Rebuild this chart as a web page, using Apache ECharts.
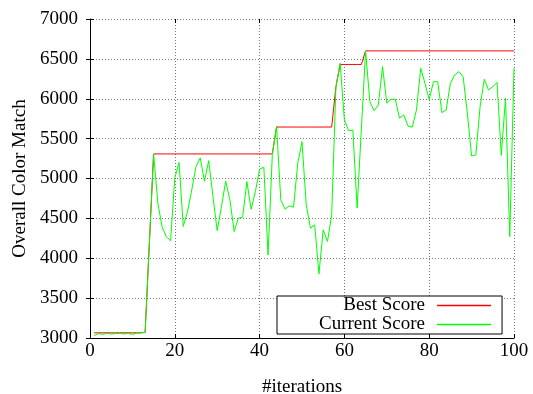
<!DOCTYPE html>
<html>
<head>
<meta charset="utf-8">
<script src="https://cdn.jsdelivr.net/npm/echarts@6/dist/echarts.min.js"></script>
<style>html,body{margin:0;padding:0;background:#fff}#chart{width:533px;height:394px}</style>
</head>
<body>
<div id="chart"></div>
<script>
const seriesNames = ['Best Score', 'Current Score'];
const seriesColors = ['#ff0000', '#00ff00'];
const xTicks = [0, 20, 40, 60, 80, 100];
const yTicks = [3000, 3500, 4000, 4500, 5000, 5500, 6000, 6500, 7000];

// Best Score, iterations 1..100
const bestScore = [
  3065, 3065, 3065, 3065, 3065, 3065, 3065, 3065, 3065, 3065,
  3065, 3065, 3070, 4190, 5308, 5308, 5308, 5308, 5308, 5308,
  5308, 5308, 5308, 5308, 5308, 5308, 5308, 5308, 5308, 5308,
  5308, 5308, 5308, 5308, 5308, 5308, 5308, 5308, 5308, 5308,
  5308, 5308, 5308, 5645, 5645, 5645, 5645, 5645, 5645, 5645,
  5645, 5645, 5645, 5645, 5645, 5645, 5645, 6150, 6430, 6430,
  6430, 6430, 6430, 6430, 6600, 6600, 6600, 6600, 6600, 6600,
  6600, 6600, 6600, 6600, 6600, 6600, 6600, 6600, 6600, 6600,
  6600, 6600, 6600, 6600, 6600, 6600, 6600, 6600, 6600, 6600,
  6600, 6600, 6600, 6600, 6600, 6600, 6600, 6600, 6600, 6600
];

// Current Score, iterations 1..100
const currentScore = [
  3030, 3055, 3045, 3060, 3050, 3055, 3060, 3050, 3060, 3045,
  3060, 3065, 3070, 4190, 5308, 4694, 4393, 4272, 4218, 5007,
  5200, 4400, 4585, 4857, 5150, 5258, 4965, 5224, 4773, 4345,
  4648, 4965, 4732, 4335, 4505, 4512, 4961, 4615, 4836, 5117,
  5142, 4042, 5300, 5655, 4732, 4615, 4657, 4640, 5190, 5462,
  4669, 4377, 4418, 3804, 4356, 4210, 4540, 6150, 6445, 5734,
  5600, 5605, 4630, 5620, 6600, 5964, 5851, 5922, 6402, 5943,
  5994, 5994, 5756, 5797, 5659, 5643, 5860, 6382, 6194, 5990,
  6214, 6214, 5826, 5860, 6194, 6298, 6340, 6277, 5818, 5283,
  5296, 5901, 6244, 6110, 6152, 6205, 5290, 6006, 4272, 6382
];

const FONT = 'Liberation Serif';
const chart = echarts.init(document.getElementById('chart'), null, {renderer: 'canvas'});

const toPairs = arr => arr.map((v, i) => [i + 1, v]);

const gridLine = {show: true, lineStyle: {color: '#777', type: [1, 2], width: 1}};
const richLabel = {s: {color: '#000', fontFamily: FONT, fontSize: 19}};
const plainFmt = v => '{s|' + String(v) + '}';
const lineIcon = 'path://M0,0L54,0L54,1.5L0,1.5Z';

chart.setOption({
  animation: false,
  backgroundColor: '#fff',
  textStyle: {fontFamily: FONT},
  grid: {left: 90, right: 19, top: 19, bottom: 56, containLabel: false, outerBoundsMode: 'none'},
  legend: {
    data: seriesNames.map((n, i) => ({
      name: n,
      icon: lineIcon,
      itemStyle: {color: seriesColors[i], borderColor: seriesColors[i], borderWidth: 0, opacity: 1}
    })),
    orient: 'vertical',
    align: 'right',
    left: 277,
    top: 296,
    padding: [0, 11, 0, 42],
    itemGap: 0,
    itemWidth: 54,
    itemHeight: 1.5,
    borderColor: '#000',
    borderWidth: 1,
    backgroundColor: '#fff',
    formatter: n => '{t|' + n + '}',
    textStyle: {
      color: '#000',
      fontFamily: FONT,
      fontSize: 19,
      rich: {t: {color: '#000', fontFamily: FONT, fontSize: 19, padding: [0, 7, 0, 0]}}
    }
  },
  xAxis: [{
    type: 'value',
    min: xTicks[0],
    max: xTicks[xTicks.length - 1],
    interval: 20,
    name: '#iterations',
    nameLocation: 'middle',
    nameGap: 40,
    nameTextStyle: {color: '#000', fontFamily: FONT, fontSize: 19},
    axisLine: {show: true, lineStyle: {color: '#000', width: 1}},
    axisTick: {show: true, inside: true, length: 4, lineStyle: {color: '#000'}},
    axisLabel: {color: '#000', fontFamily: FONT, fontSize: 19, margin: 4, formatter: plainFmt, rich: richLabel},
    splitLine: gridLine
  }, {
    type: 'value',
    position: 'top',
    min: xTicks[0],
    max: xTicks[xTicks.length - 1],
    interval: 20,
    axisLine: {show: false},
    axisTick: {show: true, inside: true, length: 4, lineStyle: {color: '#000'}},
    axisLabel: {show: false},
    splitLine: {show: false}
  }],
  yAxis: [{
    type: 'value',
    min: yTicks[0],
    max: yTicks[yTicks.length - 1],
    interval: 500,
    name: 'Overall Color Match',
    nameLocation: 'middle',
    nameGap: 48,
    nameTextStyle: {color: '#000', fontFamily: FONT, fontSize: 19},
    axisLine: {show: true, lineStyle: {color: '#000', width: 1}},
    axisTick: {show: true, inside: true, length: 4, lineStyle: {color: '#000'}},
    axisLabel: {color: '#000', fontFamily: FONT, fontSize: 19, margin: 12, formatter: plainFmt, rich: richLabel},
    splitLine: gridLine
  }, {
    type: 'value',
    position: 'right',
    min: yTicks[0],
    max: yTicks[yTicks.length - 1],
    interval: 500,
    axisLine: {show: false},
    axisTick: {show: true, inside: true, length: 4, lineStyle: {color: '#000'}},
    axisLabel: {show: false},
    splitLine: {show: false}
  }],
  series: [{
    name: seriesNames[0],
    type: 'line',
    data: toPairs(bestScore),
    symbol: 'none',
    color: seriesColors[0],
    lineStyle: {color: seriesColors[0], width: 1},
    itemStyle: {color: seriesColors[0]},
    z: 2
  }, {
    name: seriesNames[1],
    type: 'line',
    data: toPairs(currentScore),
    symbol: 'none',
    color: seriesColors[1],
    lineStyle: {color: seriesColors[1], width: 1},
    itemStyle: {color: seriesColors[1]},
    z: 3
  }]
});
</script>
</body>
</html>
